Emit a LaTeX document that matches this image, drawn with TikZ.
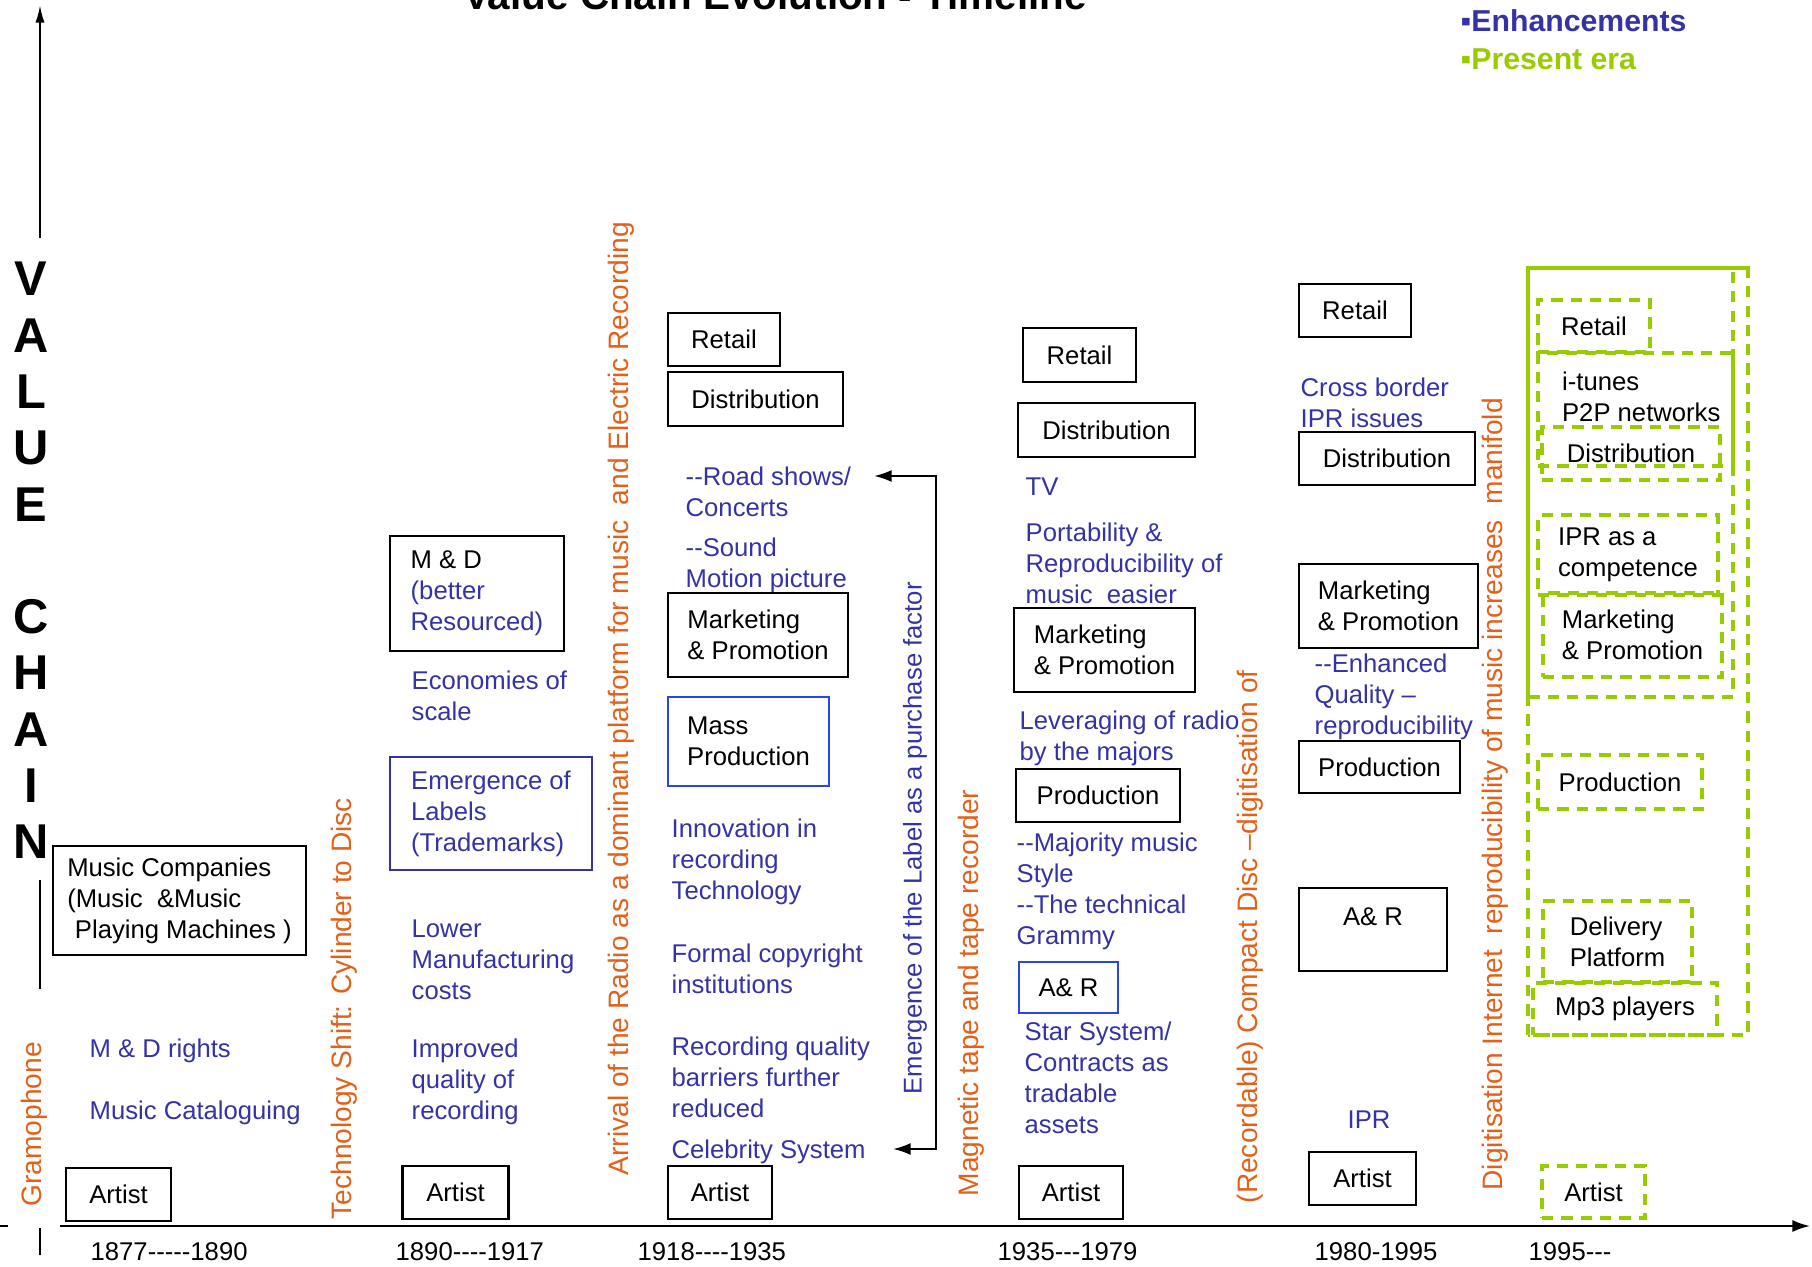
\documentclass[tikz,border=0pt]{standalone}
\usepackage{fontspec}
\setmainfont{Liberation Sans}[Ligatures=TeXOff]
\usetikzlibrary{arrows.meta}
\definecolor{vorange}{RGB}{228,96,24}
\definecolor{vblue}{RGB}{51,51,165}
\definecolor{vboxblue}{RGB}{40,70,230}
\definecolor{vgreen}{RGB}{153,204,0}
\newcommand\smallfont{\fontsize{7.3}{8.8}\selectfont}

\begin{document}
\begin{tikzpicture}[
  stage/.style 2 args={draw,line width=0.6pt,align=left,inner sep=0pt,font=\smallfont,
    minimum width=#1cm,minimum height=#2cm},
  bluestage/.style={draw=vboxblue},
  newstage/.style={draw=vgreen,line width=0.9pt,dash pattern=on 3.2pt off 2.3pt},
  note/.style={anchor=north west,align=left,inner sep=0pt,font=\smallfont,text=vblue},
  techshift/.style={rotate=90,anchor=west,inner sep=0pt,font=\fontsize{8}{9}\selectfont,text=vorange},
  period/.style={anchor=west,inner sep=0pt,font=\smallfont},
  legend/.style={anchor=base west,inner sep=0pt,font=\fontsize{8.6}{10}\selectfont\bfseries},
  axis/.style={line width=0.6pt}
]
\useasboundingbox (0,0) rectangle (18.12,12.66);
\clip (0,0) rectangle (18.12,12.66);

\node[font=\fontsize{11.5}{12}\selectfont\bfseries,anchor=base] (title) at (7.75,12.56) {Value Chain Evolution - Timeline};
\node[legend,text=vblue] (legenh) at (14.60,12.34) {▪Enhancements};
\node[legend,text=vgreen] (legnow) at (14.60,11.96) {▪Present era};

% axes
\coordinate (ylow) at (0.40,10.28);
\coordinate (ytop) at (0.40,12.61);
\coordinate (ymida) at (0.40,3.86);
\coordinate (ymidb) at (0.40,2.77);
\coordinate (ytica) at (0.40,0.38);
\coordinate (yticb) at (0.40,0.11);
\coordinate (xstub) at (0,0.40);
\coordinate (xstubend) at (0.08,0.40);
\coordinate (xleft) at (0.60,0.40);
\coordinate (xright) at (18.10,0.40);
\draw[axis,-{Latex[length=5pt,width=2.6pt]}] (ylow) -- (ytop);
\draw[axis] (ymida) -- (ymidb);
\draw[axis] (ytica) -- (yticb);
\draw[axis] (xstub) -- (xstubend);
\draw[axis,-{Latex[length=5pt,width=3.4pt]}] (xleft) -- (xright);
\foreach \ch/\k in {V/0,A/1,L/2,U/3,E/4,C/6,H/7,A/8,I/9,N/10}
  \node[font=\fontsize{13.9}{14}\selectfont\bfseries,inner sep=0pt] (vc\k) at (0.31,{9.87-0.563*\k}) {\ch};

% periods
\node[period] (p1) at (0.90,0.14) {1877-----1890};
\node[period] (p2) at (3.95,0.14) {1890----1917};
\node[period] (p3) at (6.37,0.14) {1918----1935};
\node[period] (p4) at (9.97,0.14) {1935---1979};
\node[period] (p5) at (13.14,0.14) {1980-1995};
\node[period] (p6) at (15.28,0.14) {1995---};

% technology shifts
\node[techshift] (gram) at (0.34,0.59) {Gramophone};
\node[techshift] (disc) at (3.44,0.46) {Technology Shift: Cylinder to Disc};
\node[techshift] (radio) at (6.21,0.90) {Arrival of the Radio as a dominant platform for music\ \ and Electric Recording};
\node[techshift] (tape) at (9.71,0.69) {Magnetic tape and tape recorder};
\node[techshift] (cd) at (12.50,0.62) {(Recordable) Compact Disc –digitisation of};
\node[techshift] (net) at (14.95,0.75) {Digitisation Internet\ \ reproducibility of music increases\ \ manifold};

% 1877-1890
\node[stage={2.53}{1.09}] (musco) at (1.795,3.655) {Music Companies\\(Music\ \ \&Music\\\hspace{0.3em}Playing Machines )};
\node[note] (mdrights) at (0.89,2.275) {M \& D rights};
\node[note] (catal) at (0.89,1.655) {Music Cataloguing};
\node[stage={1.05}{0.53}] (artist1) at (1.185,0.715) {Artist};

% 1890-1917
\node[stage={1.74}{1.15}] (md) at (4.77,6.725) {M \& D\\\textcolor{vblue}{(better}\\\textcolor{vblue}{Resourced)}};
\node[note] (econ) at (4.11,5.955) {Economies of\\scale};
\node[stage={2.02}{1.13},draw=vblue,text=vblue] (labels) at (4.91,4.525) {Emergence of\\Labels\\(Trademarks)};
\node[note] (lower) at (4.11,3.465) {Lower\\Manufacturing\\costs};
\node[note] (improved) at (4.11,2.275) {Improved\\quality of\\recording};
\node[stage={1.06}{0.53}] (artist2) at (4.555,0.735) {Artist};

% 1918-1935
\node[stage={1.12}{0.53}] (retail3) at (7.24,9.265) {Retail};
\node[stage={1.75}{0.54}] (dist3) at (7.555,8.67) {Distribution};
\node[note] (roadshows) at (6.85,7.995) {--Road shows/\\Concerts};
\node[note] (sound) at (6.85,7.285) {--Sound\\Motion picture};
\node[stage={1.80}{0.84}] (mark3) at (7.58,6.31) {Marketing\\\& Promotion};
\node[stage={1.61}{0.89},bluestage] (mass3) at (7.485,5.245) {Mass\\Production};
\node[note] (innov) at (6.71,4.475) {Innovation in\\recording\\Technology};
\node[note] (formal) at (6.71,3.225) {Formal copyright\\institutions};
\node[note] (recq) at (6.71,2.295) {Recording quality\\barriers further\\reduced};
\node[note] (celeb) at (6.71,1.265) {Celebrity System};
\node[stage={1.04}{0.53}] (artist3) at (7.20,0.735) {Artist};
\coordinate (roadtip) at (8.74,7.90);
\coordinate (celebtip) at (8.93,1.17);
\draw[axis,{Latex[length=5pt,width=3.4pt]}-{Latex[length=5pt,width=3.4pt]}] (roadtip) -- ++(0.62,0) |- (celebtip);
\node[techshift,text=vblue,font=\smallfont] (purchase) at (9.15,1.71) {Emergence of the Label as a purchase factor};

% 1935-1979
\node[stage={1.13}{0.54}] (retail4) at (10.795,9.11) {Retail};
\node[stage={1.77}{0.54}] (dist4) at (11.065,8.36) {Distribution};
\node[note] (tv) at (10.25,7.885) {TV};
\node[note] (port) at (10.25,7.435) {Portability \&\\Reproducibility of\\music\ \ easier};
\node[stage={1.81}{0.84}] (mark4) at (11.045,6.16) {Marketing\\\& Promotion};
\node[note] (lever) at (10.19,5.555) {Leveraging of radio\\by the majors};
\node[stage={1.64}{0.53}] (prod4) at (10.98,4.705) {Production};
\node[note] (major) at (10.16,4.335) {--Majority music\\Style\\--The technical\\Grammy};
\node[stage={0.99}{0.51},bluestage] (ar4) at (10.685,2.785) {A\& R};
\node[note] (star) at (10.24,2.445) {Star System/\\Contracts as\\tradable\\assets};
\node[stage={1.04}{0.53}] (artist4) at (10.71,0.735) {Artist};

% 1980-1995
\node[stage={1.12}{0.53}] (retail5) at (13.55,9.555) {Retail};
\node[note] (cross) at (13.00,8.885) {Cross border\\IPR issues};
\node[stage={1.76}{0.53}] (dist5) at (13.87,8.075) {Distribution};
\node[stage={1.79}{0.84}] (mark5) at (13.885,6.60) {Marketing\\\& Promotion};
\node[note] (enh) at (13.14,6.125) {--Enhanced\\Quality –\\reproducibility};
\node[stage={1.61}{0.52}] (prod5) at (13.795,4.99) {Production};
\node[stage={1.48}{0.83}] (ar5) at (13.73,3.365) {};
\node[anchor=north,inner sep=0pt,font=\smallfont] (ar5txt) at ([yshift=-0.2cm]ar5.north) {A\& R};
\node[note,anchor=center] (ipr) at (13.69,1.46) {IPR};
\node[stage={1.07}{0.53}] (artist5) at (13.625,0.875) {Artist};

% 1995---
\draw[newstage] (15.28,2.31) rectangle (17.48,9.98);
\draw[newstage] (15.28,5.69) rectangle (17.33,9.98);
\draw[draw=vgreen,line width=0.9pt] (15.28,5.69) -- (15.28,9.98) -- (17.48,9.98);
\node[stage={1.12}{0.52},newstage] (retail6) at (15.94,9.40) {Retail};
\node[stage={1.95}{1.13},newstage] (itunes6) at (16.355,8.565) {};
\node[anchor=north west,align=left,inner sep=0pt,font=\smallfont] (itunestxt) at ([xshift=0.25cm,yshift=-0.195cm]itunes6.north west) {i-tunes\\P2P networks};
\node[stage={1.78}{0.53},newstage] (dist6) at (16.31,8.125) {Distribution};
\node[stage={1.80}{0.80},newstage] (ipr6) at (16.28,7.11) {IPR as a\\competence};
\node[stage={1.79}{0.84},newstage] (mark6) at (16.325,6.31) {Marketing\\\& Promotion};
\node[stage={1.64}{0.54},newstage] (prod6) at (16.20,4.84) {Production};
\node[stage={1.49}{0.81},newstage] (deliv6) at (16.175,3.245) {Delivery\\Platform};
\node[stage={1.84}{0.52},newstage] (mp36) at (16.25,2.57) {Mp3 players};
\node[stage={1.03}{0.52},newstage] (artist6) at (15.935,0.74) {Artist};
\end{tikzpicture}
\end{document}
